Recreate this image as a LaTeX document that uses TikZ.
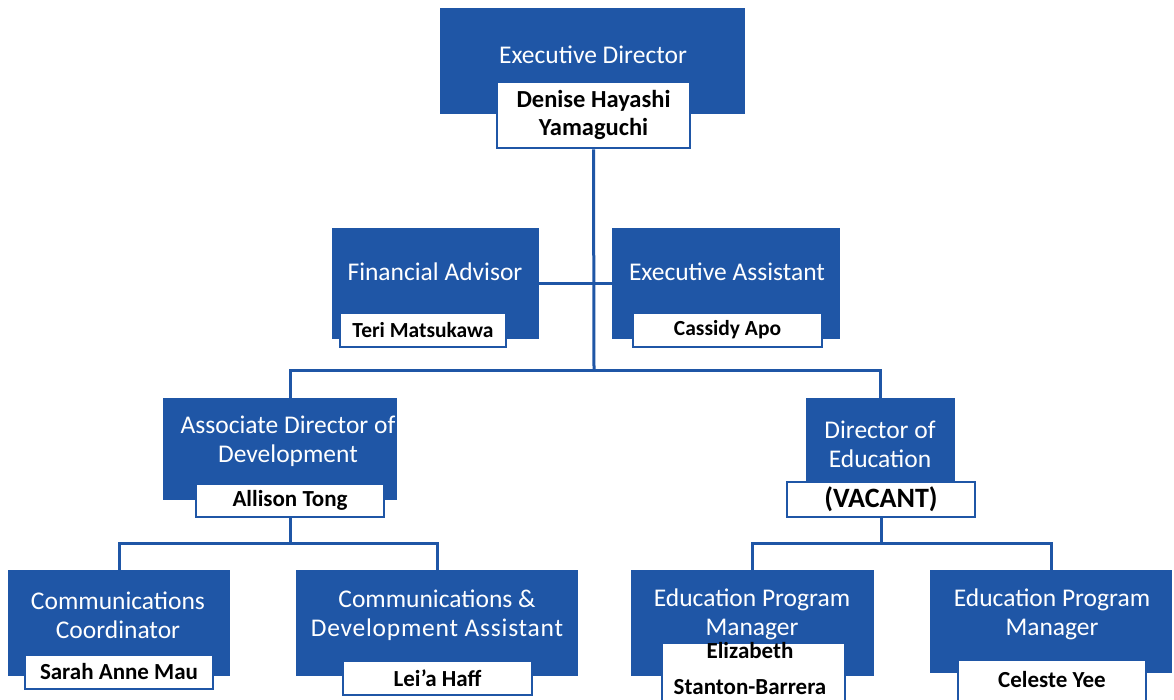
\documentclass[tikz,border=0pt]{standalone}
\usepackage{fontspec}
\setmainfont{Carlito}
\definecolor{orgblue}{RGB}{31,86,166}
\begin{document}
\begin{tikzpicture}[x=1pt,y=-1pt,
  bluebox/.style={fill=orgblue,draw=none,inner sep=0pt},
  namebox/.style={fill=white,draw=orgblue,line width=2.5pt,inner sep=0pt,align=center,
    font=\fontsize{23}{28}\selectfont\bfseries,text=black},
  nametext/.style={inner sep=0pt,align=center,font=\fontsize{23}{36}\selectfont\bfseries,text=black},
  titletext/.style={text=white,align=center,inner sep=0pt,font=\fontsize{25.5}{29}\selectfont},
  link/.style={draw=orgblue,line width=3pt}]
\useasboundingbox (0,0) rectangle (1174,699);
\fill[white] (0,0) rectangle (1174,699);
% Executive Director
\node[bluebox,minimum width=305,minimum height=106] (edb) at (592.5,61) {};
\node[titletext] (edt) at (593,55) {Executive Director};
\node[namebox,minimum width=193,minimum height=66,font=\fontsize{24.5}{28}\selectfont\bfseries] (edn) at (593.5,115) {Denise Hayashi\\Yamaguchi};
% Financial Advisor
\node[bluebox,minimum width=207,minimum height=111] (fab) at (435.5,283.5) {};
\node[titletext] (fat) at (435,272) {Financial Advisor};
\node[namebox,minimum width=166,minimum height=34,font=\fontsize{21.5}{28}\selectfont\bfseries] (fan) at (423,330) {Teri Matsukawa};
% Executive Assistant
\node[bluebox,minimum width=228,minimum height=111] (eab) at (726,283.5) {};
\node[titletext] (eat) at (727,272) {Executive Assistant};
\node[namebox,minimum width=189,minimum height=34,font=\fontsize{21.5}{28}\selectfont\bfseries] (ean) at (727.5,330) {Cassidy Apo};
% Associate Director
\node[bluebox,minimum width=234,minimum height=102] (adb) at (280,449) {};
\node[titletext] (adt) at (288,441) {Associate Director of\\Development};
\node[namebox,minimum width=188,minimum height=33] (adn) at (290,500.5) {Allison Tong};
% Director of Education
\node[bluebox,minimum width=149,minimum height=84] (deb) at (880.5,440) {};
\node[titletext] (det) at (880,444) {Director of\\Education};
\node[namebox,minimum width=188,minimum height=35,font=\fontsize{28}{30}\selectfont\bfseries] (den) at (881,499.5) {(VACANT)};
% Communications Coordinator
\node[bluebox,minimum width=222,minimum height=106] (ccb) at (119,623) {};
\node[titletext] (cct) at (118,615) {Communications\\Coordinator};
\node[namebox,minimum width=188,minimum height=34] (ccn) at (119,672) {Sarah Anne Mau};
% Communications & Development Assistant
\node[bluebox,minimum width=282,minimum height=106] (cdb) at (437,623) {};
\node[titletext] (cdt) at (437,615) {Communications \&\\{\addfontfeature{LetterSpace=3}Development Assistant}};
\node[namebox,minimum width=189,minimum height=34] (cdn) at (437.5,678) {Lei'a Haff};
% Education Program Manager 1
\node[bluebox,minimum width=243,minimum height=106] (e1b) at (752.5,623) {};
\node[titletext] (e1t) at (752,614.5) {Education Program\\Manager};
\node[namebox,minimum width=183,minimum height=67] (e1n) at (753.5,676.5) {};
\node[nametext] (e1x) at (750,669) {Elizabeth\\Stanton-Barrera};
% Education Program Manager 2
\node[bluebox,minimum width=242,minimum height=103] (e2b) at (1051,621.5) {};
\node[titletext] (e2t) at (1052,614.5) {Education Program\\Manager};
\node[namebox,minimum width=188,minimum height=52] (e2n) at (1052,686) {};
\node[nametext] (e2x) at (1052,680) {Celeste Yee};
% connectors
\coordinate (j1) at (594,370);
\coordinate (j2) at (290,543);
\coordinate (j3) at (881,543);
\draw[link] (edn.south) -- (j1);
\draw[link] (j1) -| (adn.north |- adb.north);
\draw[link] (j1) -| (deb.north);
\draw[link] (fab.east) -- (eab.west);
\draw[link] (adn.south) -- (j2);
\draw[link] (ccb.north) |- (cdb.north |- j2) -- (cdb.north);
\draw[link] (den.south) -- (j3);
\draw[link] (e1b.north) |- (e2b.north |- j3) -- (e2b.north);
\end{tikzpicture}
\end{document}
